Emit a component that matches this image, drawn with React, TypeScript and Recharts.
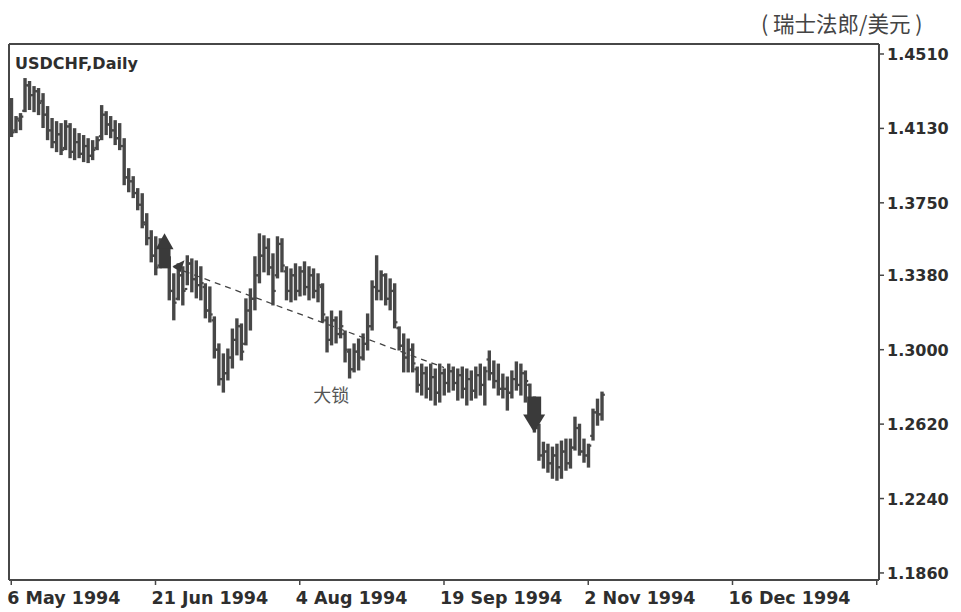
import { ComposedChart, Bar, XAxis, YAxis, CartesianGrid, ReferenceLine, ReferenceDot } from "recharts";

// daily bars, USD/CHF, from 6 May 1994
const HIGHS = [
  1.428, 1.4188, 1.4203, 1.4382, 1.4367, 1.4341, 1.4331, 1.4305, 1.4239, 1.4178,
  1.4162, 1.4152, 1.4167, 1.4152, 1.4126, 1.4101, 1.4091, 1.4075, 1.4065, 1.4085,
  1.4244, 1.4213, 1.4188, 1.4167, 1.4152, 1.4075, 1.3922, 1.3881, 1.382, 1.3794,
  1.3692, 1.3605, 1.3574, 1.3564, 1.3538, 1.3472, 1.3385, 1.3436, 1.3421, 1.3477,
  1.3461, 1.3451, 1.3421, 1.3334, 1.3318, 1.3165, 1.3027, 1.2976, 1.3001, 1.3103,
  1.3155, 1.3129, 1.3257, 1.3308, 1.3472, 1.3589, 1.3579, 1.3564, 1.3487, 1.3574,
  1.3564, 1.3421, 1.341, 1.3436, 1.3421, 1.3446, 1.3421, 1.341, 1.3385, 1.3334,
  1.3165, 1.3195, 1.3165, 1.3195, 1.3093, 1.3001, 1.3027, 1.3052, 1.3078, 1.318,
  1.3349, 1.3477, 1.34, 1.3385, 1.3359, 1.3334, 1.3114, 1.3078, 1.3052, 1.3027,
  1.2909, 1.2924, 1.2909, 1.2924, 1.2899, 1.2924, 1.2899, 1.2924, 1.2909, 1.2899,
  1.2909, 1.2899, 1.2889, 1.2909, 1.2924, 1.2909, 1.2991, 1.294, 1.2924, 1.2873,
  1.2858, 1.2889, 1.2935, 1.2924, 1.2889, 1.2822, 1.2756, 1.2617, 1.2525, 1.2515,
  1.25, 1.2515, 1.2531, 1.2541, 1.2541, 1.2653, 1.2617, 1.2541, 1.2515, 1.2694,
  1.2745, 1.2781,
];
const LOWS = [
  1.4091, 1.4111, 1.4126, 1.4218, 1.4229, 1.4218, 1.4203, 1.4137, 1.4075, 1.4034,
  1.4014, 1.3999, 1.4024, 1.3983, 1.3973, 1.3983, 1.3963, 1.3958, 1.3973, 1.4024,
  1.4075, 1.4101, 1.4085, 1.405, 1.4024, 1.3845, 1.3809, 1.3779, 1.3717, 1.3625,
  1.3538, 1.3451, 1.3385, 1.3421, 1.3436, 1.3257, 1.3155, 1.3257, 1.3231, 1.3334,
  1.3298, 1.3267, 1.3257, 1.3165, 1.3144, 1.296, 1.2822, 1.2786, 1.2848, 1.2909,
  1.2976, 1.295, 1.3027, 1.3103, 1.3206, 1.3344, 1.34, 1.3385, 1.3231, 1.3369,
  1.34, 1.3257, 1.3247, 1.3257, 1.3277, 1.3282, 1.3257, 1.3267, 1.3247, 1.3144,
  1.2991, 1.3027, 1.3037, 1.3063, 1.294, 1.2858, 1.2889, 1.2899, 1.295, 1.3001,
  1.3103, 1.3257, 1.3257, 1.3231, 1.3206, 1.3114, 1.3001, 1.2889, 1.2889, 1.2889,
  1.2786, 1.2771, 1.2756, 1.2745, 1.272, 1.2735, 1.2771, 1.2786, 1.2796, 1.2745,
  1.2756, 1.272, 1.2745, 1.2756, 1.2771, 1.272, 1.2848, 1.2807, 1.2771, 1.2756,
  1.2694, 1.2756, 1.2796, 1.2771, 1.2735, 1.2643, 1.2582, 1.2438, 1.2398, 1.2377,
  1.2346, 1.2336, 1.2346, 1.2387, 1.2398, 1.249, 1.2464, 1.2428, 1.2403, 1.2541,
  1.2617, 1.2643,
];
const OPENS = [
  1.425, 1.412, 1.417, 1.422, 1.435, 1.43, 1.432, 1.427, 1.42, 1.412,
  1.406, 1.41, 1.403, 1.414, 1.401, 1.406, 1.4, 1.404, 1.399, 1.403,
  1.409, 1.42, 1.415, 1.412, 1.408, 1.404, 1.388, 1.386, 1.38, 1.374,
  1.364, 1.357, 1.348, 1.343, 1.35, 1.346, 1.33, 1.326, 1.338, 1.331,
  1.344, 1.336, 1.333, 1.332, 1.32, 1.315, 1.3, 1.285, 1.288, 1.296,
  1.305, 1.312, 1.303, 1.32, 1.326, 1.338, 1.348, 1.352, 1.342, 1.338,
  1.354, 1.34, 1.33, 1.338, 1.33, 1.34, 1.332, 1.338, 1.33, 1.332,
  1.315, 1.305, 1.315, 1.308, 1.308, 1.299, 1.29, 1.299, 1.296, 1.303,
  1.312, 1.332, 1.33, 1.338, 1.326, 1.33, 1.311, 1.302, 1.296, 1.3,
  1.29, 1.282, 1.288, 1.28, 1.286, 1.278, 1.288, 1.283, 1.289, 1.283,
  1.287, 1.28, 1.285, 1.279, 1.287, 1.282, 1.295, 1.288, 1.284, 1.28,
  1.28, 1.278, 1.285, 1.282, 1.288, 1.282, 1.266, 1.26, 1.246, 1.248,
  1.242, 1.246, 1.24, 1.248, 1.242, 1.25, 1.26, 1.248, 1.246, 1.256,
  1.268, 1.267,
];
const CLOSES = [
  1.411, 1.418, 1.419, 1.435, 1.43, 1.432, 1.426, 1.42, 1.412, 1.406,
  1.41, 1.402, 1.414, 1.401, 1.406, 1.4, 1.404, 1.399, 1.402, 1.407,
  1.42, 1.415, 1.412, 1.408, 1.404, 1.388, 1.386, 1.38, 1.374, 1.365,
  1.357, 1.348, 1.342, 1.35, 1.346, 1.33, 1.324, 1.338, 1.33, 1.344,
  1.336, 1.333, 1.334, 1.32, 1.318, 1.3, 1.285, 1.288, 1.296, 1.305,
  1.312, 1.299, 1.32, 1.326, 1.338, 1.348, 1.352, 1.342, 1.33, 1.354,
  1.343, 1.33, 1.338, 1.33, 1.34, 1.332, 1.338, 1.33, 1.333, 1.318,
  1.305, 1.315, 1.308, 1.312, 1.3, 1.29, 1.299, 1.296, 1.303, 1.312,
  1.332, 1.33, 1.338, 1.326, 1.33, 1.314, 1.302, 1.296, 1.3, 1.293,
  1.282, 1.288, 1.28, 1.286, 1.278, 1.288, 1.283, 1.289, 1.283, 1.287,
  1.28, 1.285, 1.279, 1.287, 1.282, 1.289, 1.288, 1.284, 1.28, 1.28,
  1.278, 1.285, 1.282, 1.288, 1.284, 1.266, 1.26, 1.246, 1.248, 1.242,
  1.246, 1.24, 1.248, 1.242, 1.25, 1.26, 1.248, 1.246, 1.251, 1.268,
  1.267, 1.277,
];

const SLOTS = 193; // bar positions on the time axis, incl. empty future space
const DATE_LABELS = ["6 May 1994", "21 Jun 1994", "4 Aug 1994", "19 Sep 1994", "2 Nov 1994", "16 Dec 1994", ""];
const PRICE_TICKS = [1.186, 1.224, 1.262, 1.3, 1.338, 1.375, 1.413, 1.451];

const rows = Array.from({ length: SLOTS }, (_, i) =>
  i < HIGHS.length
    ? { idx: i, open: OPENS[i], high: HIGHS[i], low: LOWS[i], close: CLOSES[i], range: [LOWS[i], HIGHS[i]] }
    : { idx: i }
);

const INK = "#474747";
const TEXT = "#2e2e2e";
const LATIN = "'DejaVu Sans', Verdana, sans-serif";
const CJK = "'Noto Sans CJK SC', sans-serif";

function OhlcBar(props: any) {
  const { x, y, width, height, payload } = props;
  if (!payload || payload.high == null || !isFinite(y) || !isFinite(height)) return null;
  const top = Math.min(y, y + height);
  const bottom = Math.max(y, y + height);
  const cx = x + width / 2;
  const span = payload.high - payload.low || 1;
  const at = (v: number) => top + ((payload.high - v) / span) * (bottom - top);
  return (
    <g stroke={INK} strokeWidth={3.4}>
      <line x1={cx} x2={cx} y1={top - 1} y2={bottom + 1} />
      <line x1={cx - 2.8} x2={cx} y1={at(payload.open)} y2={at(payload.open)} strokeWidth={2.2} />
      <line x1={cx} x2={cx + 2.8} y1={at(payload.close)} y2={at(payload.close)} strokeWidth={2.2} />
    </g>
  );
}

function DateTick({ x, y, payload }: any) {
  const label = DATE_LABELS[Math.round(payload.value / 32)] ?? "";
  return (
    <text x={x - 4} y={y + 17} textAnchor="start" fill={TEXT} fontFamily={LATIN} fontWeight="bold" fontSize={17.5}>
      {label}
    </text>
  );
}

function PriceTick({ x, y, payload }: any) {
  return (
    <text x={x} y={y + 6} textAnchor="start" fill={TEXT} fontFamily={LATIN} fontWeight="bold" fontSize={16}>
      {Number(payload.value).toFixed(4)}
    </text>
  );
}

function UpArrow({ cx, cy }: any) {
  return (
    <g fill="#3a3a3a">
      <polygon points={`${cx},${cy} ${cx - 9},${cy + 16} ${cx + 9},${cy + 16}`} />
      <rect x={cx - 5} y={cy + 15} width={11} height={20} />
      <polygon points={`${cx + 8},${cy + 33} ${cx + 20},${cy + 27} ${cx + 16},${cy + 39}`} />
    </g>
  );
}

function DownArrow({ cx, cy }: any) {
  return (
    <g fill="#3a3a3a">
      <rect x={cx - 7} y={cy - 36} width={14} height={20} />
      <polygon points={`${cx},${cy} ${cx - 11},${cy - 18} ${cx + 11},${cy - 18}`} />
    </g>
  );
}

function Note({ cx, cy }: any) {
  return (
    <text x={cx} y={cy + 7} textAnchor="middle" fill="#555" fontFamily={CJK} fontSize={18}>
      大锁
    </text>
  );
}

export default function App() {
  return (
    <div style={{ position: "absolute", left: 0, top: 0, width: 961, height: 612, background: "#fff" }}>
      <div style={{ position: "absolute", left: 761, top: 7, fontFamily: CJK, fontSize: 21.5, color: "#444", whiteSpace: "nowrap" }}>
        ( 瑞士法郎/美元 )
      </div>
      <div style={{ position: "absolute", left: 15, top: 54, fontFamily: LATIN, fontWeight: "bold", fontSize: 16, color: TEXT }}>
        USDCHF,Daily
      </div>
      <ComposedChart width={961} height={612} data={rows} margin={{ top: 44, right: 0, bottom: 0, left: 9 }}>
        {/* frame: top and left edges of the plot box */}
        <CartesianGrid
          stroke={INK}
          strokeWidth={2}
          horizontalCoordinatesGenerator={({ offset }: any) => [offset.top]}
          verticalCoordinatesGenerator={({ offset }: any) => [offset.left]}
        />
        <XAxis
          dataKey="idx"
          height={32}
          interval={31}
          tickSize={5}
          tickMargin={2}
          tick={<DateTick />}
          axisLine={{ stroke: INK, strokeWidth: 2 }}
          tickLine={{ stroke: INK, strokeWidth: 1.5 }}
        />
        <YAxis
          orientation="right"
          width={82}
          domain={[1.1824, 1.4561]}
          allowDataOverflow
          ticks={PRICE_TICKS}
          interval={0}
          tickSize={5}
          tickMargin={3}
          tick={<PriceTick />}
          axisLine={{ stroke: INK, strokeWidth: 2 }}
          tickLine={{ stroke: INK, strokeWidth: 1.5 }}
        />
        <Bar dataKey="range" barSize={3} shape={<OhlcBar />} isAnimationActive={false} />
        <ReferenceLine
          segment={[{ x: 36, y: 1.3421 }, { x: 96, y: 1.2909 }]}
          stroke="#444"
          strokeWidth={1.3}
          strokeDasharray="6 5"
        />
        <ReferenceDot x={34} y={1.3594} r={0} shape={<UpArrow />} />
        <ReferenceDot x={116} y={1.2577} r={0} shape={<DownArrow />} />
        <ReferenceDot x={71} y={1.2771} r={0} shape={<Note />} />
      </ComposedChart>
    </div>
  );
}
